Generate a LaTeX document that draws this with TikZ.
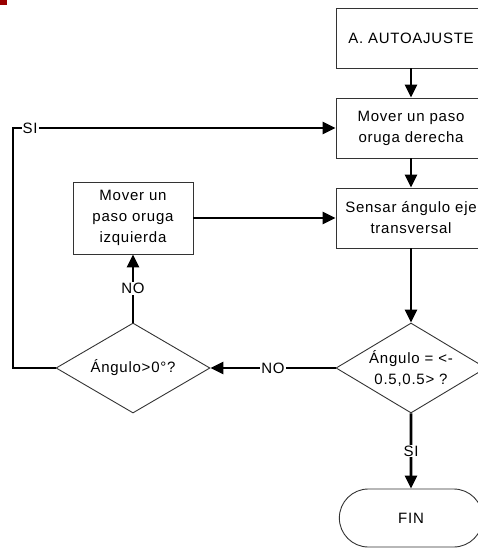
\documentclass[tikz,border=0pt]{standalone}
\usepackage{fontspec}
\setmainfont{Liberation Sans}[LetterSpace=5]
\usetikzlibrary{arrows.meta,positioning,shapes.geometric,shapes.misc}

\begin{document}
\begin{tikzpicture}[x=1pt,y=-1pt,>={Triangle[length=13pt,width=12pt]},
  font=\fontsize{15}{21}\selectfont,
  caja/.style={draw=black!80,line width=0.9pt,align=center,inner sep=0pt},
  decision/.style={diamond,draw=black!80,line width=0.9pt,align=center,
    inner sep=0pt,aspect=1.67},
  flecha/.style={line width=2.8pt,->},
  etiqueta/.style={fill=white,inner sep=1pt}]
  \useasboundingbox (0,0) rectangle (478,548);
  \fill[red!60!black] (0,0) rectangle (7,5);

  % Columna principal
  \node[caja,minimum width=150pt,minimum height=60pt] (auto) at (411,38) {A. AUTOAJUSTE};
  \node[caja,minimum width=150pt,minimum height=60pt] (derecha) at (411,128)
    {Mover un paso\\oruga derecha};
  \node[caja,minimum width=150pt,minimum height=60pt] (sensar) at (411,218)
    {Sensar ángulo eje\\transversal};
  \node[decision,minimum width=150pt,minimum height=90pt] (rango) at (411,368)
    {Ángulo = <-\\0.5,0.5> ?};
  \node[rounded rectangle,draw=black!80,line width=0.9pt,minimum width=150pt,
    minimum height=58pt] (fin) at (411,518) {FIN};

  % Columna izquierda
  \node[caja,minimum width=120pt,minimum height=72pt] (izquierda) at (133,218)
    {Mover un\\paso oruga\\izquierda};
  \node[decision,minimum width=154pt,minimum height=90pt] (signo) at (133,368)
    {Ángulo>0°?};
  \coordinate (esquina) at (13,128);

  % Conexiones
  \draw[flecha] (auto) -- (derecha);
  \draw[flecha] (derecha) -- (sensar);
  \draw[flecha] (sensar) -- (rango);
  \draw[flecha] (rango) -- node[etiqueta] {SI} (fin);
  \draw[flecha] (rango) -- node[etiqueta] {NO} (signo);
  \draw[flecha] (signo) -- node[etiqueta] {NO} (izquierda);
  \draw[flecha] (izquierda) -- (sensar);
  \draw[flecha] (signo.west) -| (esquina)
    -- node[etiqueta,pos=0.053] {SI} (derecha.west);
\end{tikzpicture}
\end{document}
